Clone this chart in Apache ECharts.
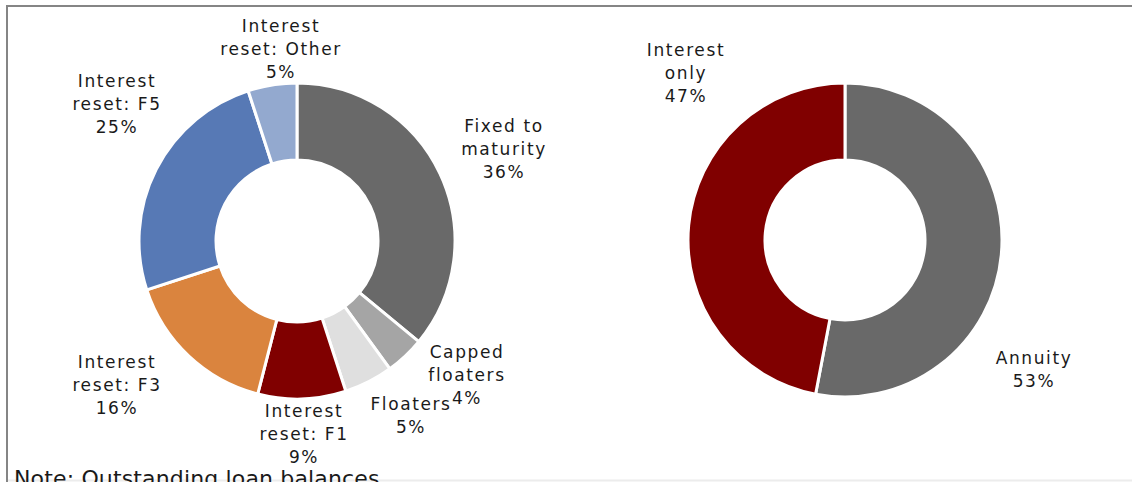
<!DOCTYPE html>
<html>
<head>
<meta charset="utf-8">
<script src="https://cdn.jsdelivr.net/npm/echarts@6/dist/echarts.min.js"></script>
<style>
html,body{margin:0;padding:0;background:#fff;}
#chart{width:1132px;height:482px;}
#chart text{letter-spacing:1.6px;}
#chart text[style*="22px"]{letter-spacing:0.15px;}
</style>
</head>
<body>
<div id="chart"></div>
<script>
// Left donut: loan balances by interest type
const leftCategories = ['Fixed to\nmaturity', 'Capped\nfloaters', 'Floaters', 'Interest\nreset: F1', 'Interest\nreset: F3', 'Interest\nreset: F5', 'Interest\nreset: Other'];
const leftValues = [36, 4, 5, 9, 16, 25, 5];
const leftColors = ['#696969', '#A5A5A5', '#DFDFDF', '#800000', '#DA843E', '#5779B5', '#93A9CF'];

// Right donut: repayment type
const rightCategories = ['Annuity', 'Interest\nonly'];
const rightValues = [53, 47];
const rightColors = ['#696969', '#800000'];

const noteText = 'Note: Outstanding loan balances';

// label block centres (text placement only)
const leftLabelPos = [[504, 149], [467, 375], [411, 415], [304, 434], [117, 385], [117, 104], [281, 49]];
const rightLabelPos = [[1034, 369], [686, 73]];

const FONT = 'DejaVu Sans, Verdana, sans-serif';

function makeData(cats, vals, cols) {
  return cats.map((c, i) => ({ name: c, value: vals[i], itemStyle: { color: cols[i] } }));
}

function layoutFn(pos) {
  return function (params) {
    const p = pos[params.dataIndex];
    return { x: p[0], y: p[1], align: 'center', verticalAlign: 'middle' };
  };
}

const labelCommon = {
  show: true,
  position: 'outside',
  formatter: '{b}\n{c}%',
  fontFamily: FONT,
  fontSize: 17,
  lineHeight: 23,
  color: '#1a1a1a',
  align: 'center'
};

const chart = echarts.init(document.getElementById('chart'), null, { renderer: 'svg' });
chart.setOption({
  animation: false,
  backgroundColor: '#ffffff',
  graphic: [
    { type: 'rect', shape: { x: 7, y: 6, width: 1140, height: 490 }, style: { fill: 'none', stroke: '#858585', lineWidth: 2 }, z: 0 },
    { type: 'line', shape: { x1: 8, y1: 480.5, x2: 1132, y2: 480.5 }, style: { stroke: '#ececec', lineWidth: 2 }, z: 0 },
    { type: 'text', left: 14, top: 467, style: { text: noteText, font: '22px ' + FONT, fill: '#1a1a1a' }, z: 10 }
  ],
  series: [
    {
      type: 'pie',
      center: [297, 241],
      radius: [81, 158],
      startAngle: 90,
      clockwise: true,
      avoidLabelOverlap: false,
      itemStyle: { borderColor: '#ffffff', borderWidth: 3 },
      label: labelCommon,
      labelLine: { show: false },
      labelLayout: layoutFn(leftLabelPos),
      emphasis: { disabled: true },
      data: makeData(leftCategories, leftValues, leftColors)
    },
    {
      type: 'pie',
      center: [845, 240],
      radius: [80, 157],
      startAngle: 90,
      clockwise: true,
      avoidLabelOverlap: false,
      itemStyle: { borderColor: '#ffffff', borderWidth: 3 },
      label: labelCommon,
      labelLine: { show: false },
      labelLayout: layoutFn(rightLabelPos),
      emphasis: { disabled: true },
      data: makeData(rightCategories, rightValues, rightColors)
    }
  ]
});
</script>
</body>
</html>
